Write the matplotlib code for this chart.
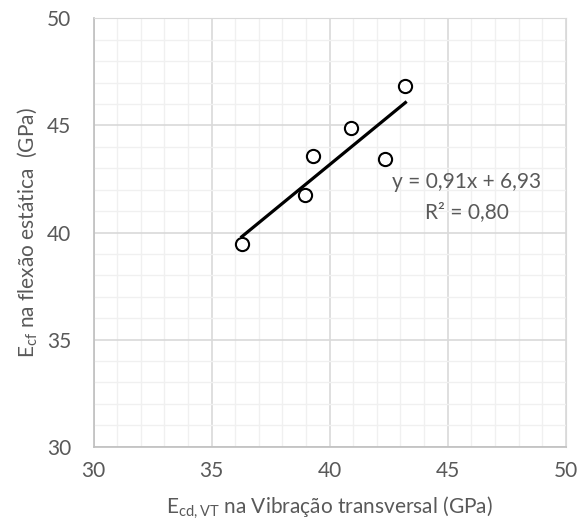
import numpy as np
import matplotlib
matplotlib.use("Agg")
from matplotlib import pyplot as plt
from matplotlib.ticker import MultipleLocator

# dados
e_vt = [36.28, 38.97, 39.31, 40.90, 42.36, 43.21]
e_cf = [39.45, 41.75, 43.57, 44.89, 43.43, 46.84]
eq_text = "y = 0,91x + 6,93"
r2_text = "R² = 0,80"

plt.rcParams["font.family"] = ["Lato", "DejaVu Sans"]
plt.rcParams["mathtext.fontset"] = "custom"
plt.rcParams["mathtext.rm"] = "Lato"
plt.rcParams["mathtext.it"] = "Lato"

grey = "#595959"
fs = 15

fig = plt.figure(figsize=(5.78, 5.28), dpi=100)
ax = fig.add_axes([0.1618, 0.154, 0.817, 0.8113])

# linha de tendencia
a, b = np.polyfit(e_vt, e_cf, 1)
xs = np.array([min(e_vt), max(e_vt)])
ax.plot(xs, a * xs + b, color="black", lw=2.3, zorder=3)

ax.plot(e_vt, e_cf, "o", ms=9.5, mfc="white", mec="black", mew=1.5, zorder=4)

ax.text(45.81, 42.37, eq_text, ha="center", va="center", fontsize=fs, color=grey)
ax.text(45.81, 40.97, r2_text, ha="center", va="center", fontsize=fs, color=grey)

ax.set_xlim(30, 50)
ax.set_ylim(30, 50)
ax.xaxis.set_major_locator(MultipleLocator(5))
ax.yaxis.set_major_locator(MultipleLocator(5))
ax.xaxis.set_minor_locator(MultipleLocator(1))
ax.yaxis.set_minor_locator(MultipleLocator(1))
ax.grid(which="major", color="#d9d9d9", lw=1.2, zorder=0)
ax.grid(which="minor", color="#f0f0f0", lw=1.0, zorder=0)
ax.set_axisbelow(True)
ax.tick_params(which="both", length=0, labelsize=fs, labelcolor=grey)
ax.tick_params(axis="x", pad=10)
ax.tick_params(axis="y", pad=16)

for s in ["top", "right"]:
    ax.spines[s].set_color("#d9d9d9")
for s in ["left", "bottom"]:
    ax.spines[s].set_color("#bfbfbf")
    ax.spines[s].set_linewidth(1.2)

ax.set_xlabel(r"$\mathregular{E_{cd,VT}}$ na Vibração transversal (GPa)", fontsize=fs, color=grey, labelpad=10)
ax.set_ylabel(r"$\mathregular{E_{cf}}$ na flexão estática  (GPa)", fontsize=fs, color=grey, labelpad=6)

fig.savefig("out.png", dpi=100)
